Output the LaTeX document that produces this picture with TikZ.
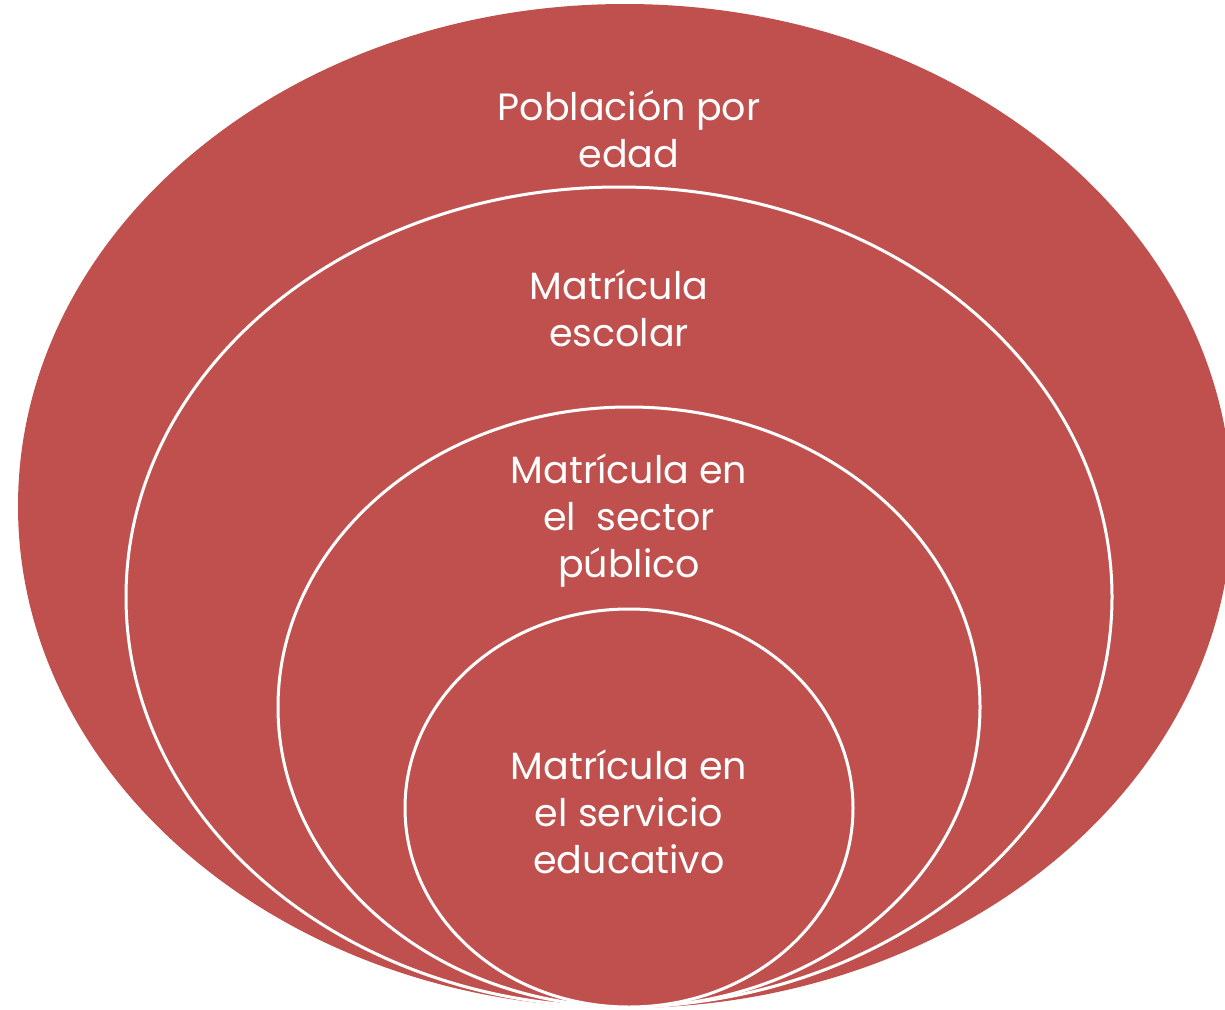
\documentclass[tikz,border=0pt]{standalone}
\usepackage{fontspec}
\setmainfont{Poppins}
\definecolor{ored}{HTML}{C0504D}
\begin{document}
\begin{tikzpicture}[x=1pt,y=1pt,
  ring/.style={fill=ored,draw=white,line width=3pt},
  lbl/.style={text=white,align=center,font=\fontsize{38}{47}\selectfont,inner sep=0pt}]
\useasboundingbox (0,0) rectangle (1225,-1009);
\begin{scope}
\clip (0,0) rectangle (1225,-1009);
\fill[ored] (625,-506) ellipse [x radius=607pt, y radius=502pt];
\draw[ring] (619,-597) ellipse [x radius=493pt, y radius=410pt];
\draw[ring] (629,-707) ellipse [x radius=351pt, y radius=300pt];
\draw[ring] (629,-808) ellipse [x radius=224pt, y radius=199pt];
\end{scope}
\node[lbl] (a) at (629,-129) {Población por\\edad};
\node[lbl] (b) at (619,-308) {Matrícula\\escolar};
\node[lbl] (c) at (629,-521) {Matrícula en\\el\ \ sector\\público};
\node[lbl] (d) at (629,-812) {Matrícula en\\el servicio\\educativo};
\end{tikzpicture}
\end{document}
